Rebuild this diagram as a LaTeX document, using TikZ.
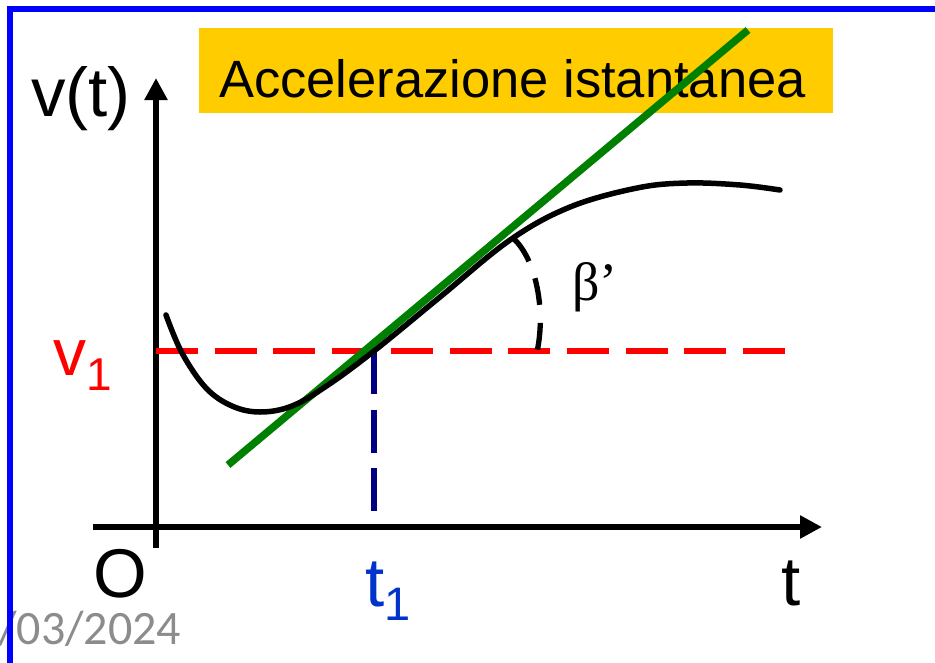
\documentclass[tikz,border=0pt]{standalone}
\usepackage{fontspec}
\setmainfont{Liberation Sans}
\newfontfamily\serifgr{Liberation Serif}
\newfontfamily\datefont{Carlito}
\usetikzlibrary{arrows.meta}
\definecolor{framebl}{RGB}{0,0,255}
\definecolor{titlebg}{RGB}{255,204,0}
\definecolor{tangreen}{RGB}{0,128,0}
\definecolor{refred}{RGB}{255,0,0}
\definecolor{navyd}{RGB}{0,0,128}
\definecolor{tblue}{RGB}{0,51,204}
\definecolor{dategrey}{RGB}{140,140,140}
\tikzset{
  axisline/.style={line width=6pt,-{Triangle[length=22pt,width=22pt]}},
  curveline/.style={line width=5.5pt,line cap=round},
  tangentline/.style={line width=7.5pt,tangreen},
  reddash/.style={line width=5.3pt,refred,dash pattern=on 42pt off 16.7pt},
  bluedash/.style={line width=5.3pt,navyd,dash pattern=on 43pt off 15.7pt},
  arcdash/.style={line width=5.3pt,dash pattern=on 27pt off 18pt},
  bigtxt/.style={inner sep=0pt,font=\fontsize{69}{69}\selectfont},
}
\begin{document}
\begin{tikzpicture}[x=1pt,y=-1pt]
\useasboundingbox (0,0) rectangle (935,662);
% date (behind frame)
\node[inner sep=0pt,anchor=base west,text=dategrey,font=\datefont\fontsize{48}{48}\selectfont] (date) at (-2,644) {/03/2024};
% frame
\draw[framebl,line width=5.5pt,line join=miter] (10,700) -- (10,9) -- (960,9);
% title box
\node[fill=titlebg,inner sep=0pt,minimum width=634pt,minimum height=85pt,anchor=north west] (titlebox) at (199,28) {};
\node[inner sep=0pt,anchor=base west,font=\fontsize{52.5}{52.5}\selectfont] (title) at (219,97) {Accelerazione istantanea};
% axes
\coordinate (ybot) at (156,548);
\coordinate (ytop) at (156,78);
\coordinate (xleft) at (93,527);
\coordinate (xright) at (822,527);
\draw[axisline] (ybot) -- (ytop);
\draw[axisline] (xleft) -- (xright);
% reference lines
\coordinate (r1) at (156,351);
\coordinate (r2) at (786,351);
\coordinate (tp) at (374,351);
\coordinate (tb) at (374,527);
\draw[reddash] (r1) -- (r2);
\draw[bluedash] (tp) -- (tb);
% tangent
\coordinate (g1) at (228,465);
\coordinate (g2) at (748,30);
\draw[tangentline] (g1) -- (g2);
% curve
\draw[curveline] plot[smooth,tension=0.6] coordinates {(166,315) (182,353) (206,388) (232,406) (260,412) (292,406) (328,385) (374,351) (440,297) (510,240) (570,207) (637,188) (687,183) (740,185) (780,190)};
% angle arc
\coordinate (a1) at (514,239);
\coordinate (a2) at (537,352);
\draw[arcdash] (a1) .. controls (536,260) and (546,310) .. (a2);
% labels
\node[bigtxt,anchor=base west] (vt) at (31,116) {v(t)};
\node[bigtxt,anchor=base west,text=refred,font=\fontsize{66}{66}\selectfont] (v1) at (53,375) {v\raisebox{-15pt}{\fontsize{46}{46}\selectfont 1}};
\node[bigtxt,anchor=base west] (O) at (93,597) {O};
\node[bigtxt,anchor=base west,text=tblue] (t1) at (365,606) {t\raisebox{-14pt}{\fontsize{47}{47}\selectfont 1}};
\node[bigtxt,anchor=base west] (t) at (781,605) {t};
\node[inner sep=0pt,anchor=base west,font=\serifgr\fontsize{54}{54}\selectfont] (beta) at (572,300) {β’};
\end{tikzpicture}
\end{document}
